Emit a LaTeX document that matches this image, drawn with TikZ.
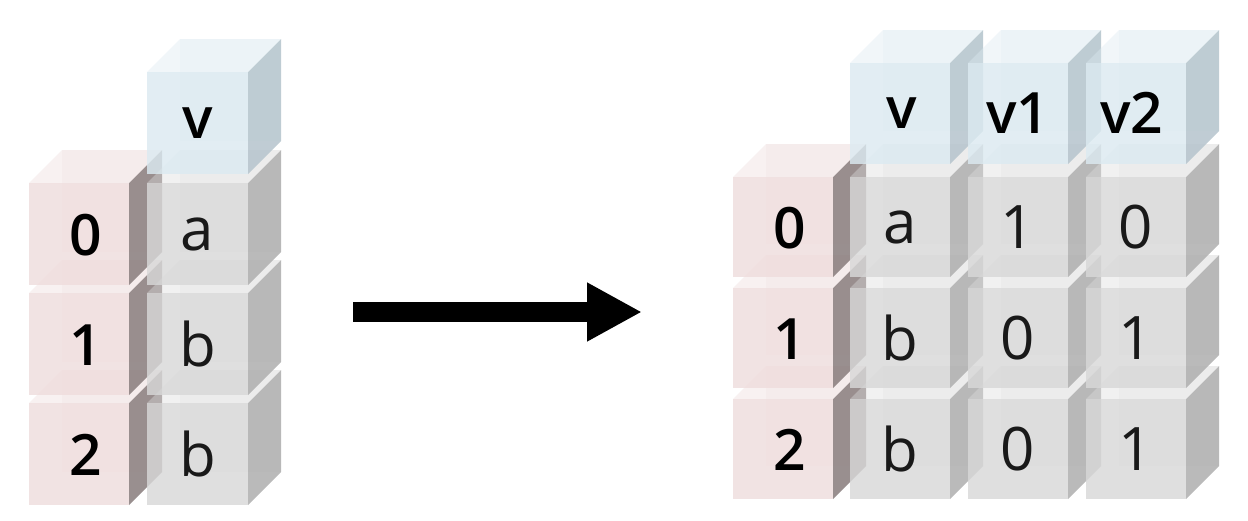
\documentclass[tikz,border=0pt]{standalone}
\usepackage{fontspec}
\setmainfont{Open Sans}
\IfFontExistsTF{Open Sans SemiBold}{\newfontfamily\idxfont{Open Sans SemiBold}}{%
  \IfFontExistsTF{Open Sans Semibold}{\newfontfamily\idxfont{Open Sans Semibold}}{%
    \newfontfamily\idxfont{Open Sans}[UprightFont=*, FakeBold=2.5]}}
\usetikzlibrary{arrows.meta}
\definecolor{pinkfront}{HTML}{EFDDDD}
\definecolor{pinkside}{HTML}{887C7C}
\definecolor{pinktop}{HTML}{EEDCDC}
\definecolor{greyfront}{HTML}{D8D8D8}
\definecolor{greyside}{HTML}{AEAEAE}
\definecolor{greytop}{HTML}{DEDEDE}
\definecolor{bluefront}{HTML}{DCEAF1}
\definecolor{blueside}{HTML}{B5C4CD}
\definecolor{bluetop}{HTML}{DCEAF1}
\tikzset{
  idxlabel/.style={font=\fontsize{28.5}{30}\idxfont, text=black, inner sep=0pt},
  vallabel/.style={font=\fontsize{30}{32}\selectfont, text=black!90, inner sep=0pt},
  bigarrow/.style={line width=10pt, -{Triangle[length=27.5pt, width=27.5pt]}},
}
% #1 x, #2 y (front top-left), #3 w, #4 h, #5 colour prefix
\newcommand\drawcube[5]{%
  \fill[#5front, fill opacity=0.22] (#1+33,#2-33) rectangle (#1+#3+33,#2+#4-33);
  \fill[#5side, fill opacity=0.85] (#1+#3,#2) -- (#1+#3+33,#2-33) -- (#1+#3+33,#2+#4-33) -- (#1+#3,#2+#4) -- cycle;
  \fill[#5top, fill opacity=0.4] (#1,#2) -- (#1+33,#2-33) -- (#1+#3+33,#2-33) -- (#1+#3,#2) -- cycle;
  \fill[#5front, fill opacity=0.82] (#1,#2) rectangle (#1+#3,#2+#4);
}
\begin{document}
\begin{tikzpicture}[x=0.5pt,y=-0.5pt]
\useasboundingbox[fill=white] (0,0) rectangle (1248,520);
% ---------- left table ----------
\drawcube{29}{403}{100}{102}{pink}
\drawcube{29}{293}{100}{102}{pink}
\drawcube{29}{183}{100}{102}{pink}
\drawcube{147}{403}{101}{102}{grey}
\drawcube{147}{293}{101}{102}{grey}
\drawcube{147}{183}{101}{102}{grey}
\drawcube{147}{72}{101}{102}{blue}
\node[idxlabel] (l0) at (86,235) {0};
\node[idxlabel] (l1) at (86,345) {1};
\node[idxlabel] (l2) at (86,455) {2};
\node[idxlabel] (lv) at (197.5,123) {v};
\node[vallabel] (la) at (197.5,234) {a};
\node[vallabel] (lb1) at (197.5,344) {b};
\node[vallabel] (lb2) at (197.5,454) {b};
% ---------- arrow ----------
\coordinate (as) at (353,312);
\coordinate (ae) at (642,312);
\draw[bigarrow] (as) -- (ae);
% ---------- right table ----------
\drawcube{733}{399}{100}{100}{pink}
\drawcube{733}{288}{100}{100}{pink}
\drawcube{733}{177}{100}{100}{pink}
\drawcube{850}{399}{100}{100}{grey}
\drawcube{850}{288}{100}{100}{grey}
\drawcube{850}{177}{100}{100}{grey}
\drawcube{850}{63}{100}{101}{blue}
\drawcube{968}{399}{100}{100}{grey}
\drawcube{968}{288}{100}{100}{grey}
\drawcube{968}{177}{100}{100}{grey}
\drawcube{968}{63}{100}{101}{blue}
\drawcube{1086}{399}{100}{100}{grey}
\drawcube{1086}{288}{100}{100}{grey}
\drawcube{1086}{177}{100}{100}{grey}
\drawcube{1086}{63}{100}{101}{blue}
\node[idxlabel] (r0) at (790,228) {0};
\node[idxlabel] (r1) at (790,339) {1};
\node[idxlabel] (r2) at (790,450) {2};
\node[idxlabel] (rv) at (902,113) {v};
\node[idxlabel] (rv1) at (1018,113) {v1};
\node[idxlabel] (rv2) at (1132,113) {v2};
\node[vallabel] (ra0) at (900,227) {a};
\node[vallabel] (rb1) at (900,338) {b};
\node[vallabel] (rb2) at (900,449) {b};
\node[vallabel] (r10) at (1018,227) {1};
\node[vallabel] (r11) at (1018,338) {0};
\node[vallabel] (r12) at (1018,449) {0};
\node[vallabel] (r20) at (1136,227) {0};
\node[vallabel] (r21) at (1136,338) {1};
\node[vallabel] (r22) at (1136,449) {1};
\end{tikzpicture}
\end{document}
